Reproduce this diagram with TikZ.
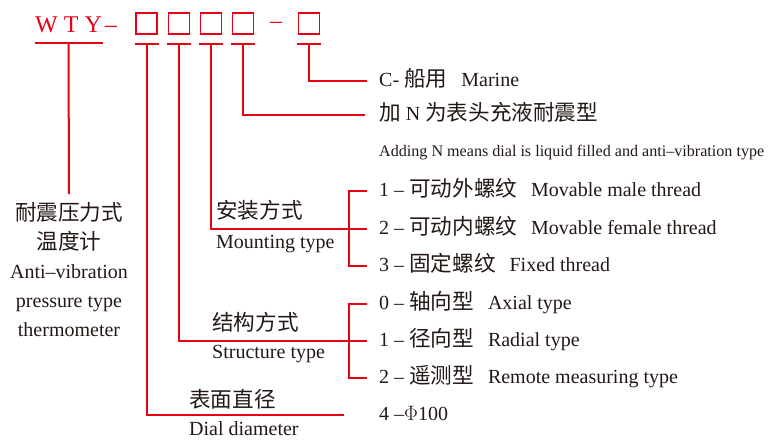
\documentclass[tikz,border=0pt]{standalone}
\usepackage{fontspec}
\setmainfont{Liberation Serif}
\newfontfamily\zh[Scale=1.08]{Noto Sans CJK SC}
\usetikzlibrary{positioning}
\definecolor{wred}{RGB}{230,0,18}
\definecolor{ink}{RGB}{35,24,21}

\begin{document}
\begin{tikzpicture}[x=1pt, y=-1pt,
  redline/.style={draw=wred, line width=2pt},
  codebox/.style={draw=wred, line width=1.2pt, minimum width=21pt, minimum height=21pt, inner sep=0},
  txt/.style={inner sep=0, anchor=west, text=ink, font=\fontsize{20}{24}\selectfont, text height=16pt, text depth=5pt},
  note/.style={txt, font=\fontsize{16.1}{20}\selectfont}
]
\useasboundingbox (0,0) rectangle (775,441);

% model code
\node[inner sep=0, anchor=west, text=wred, font=\fontsize{24}{28}\selectfont] (wty) at (35,25) {W\hspace{6pt}T\hspace{6pt}Y\hspace{3pt}–};
\node[codebox] (b1) at (146.5,23.5) {};
\node[codebox] (b2) at (179,23.5) {};
\node[codebox] (b3) at (211,23.5) {};
\node[codebox] (b4) at (243,23.5) {};
\node[inner sep=0, text=wred, font=\fontsize{24}{28}\selectfont] (dash) at (276,25) {–};
\node[codebox] (b5) at (309,23.5) {};

\coordinate (u0) at (68.5,43);
\draw[redline] ([xshift=-34pt]u0) -- ([xshift=34pt]u0);
\foreach \b in {1,...,5} {
  \coordinate (u\b) at ([yshift=-9pt]b\b.south);
  \draw[redline] ([xshift=-12pt]u\b) -- ([xshift=12pt]u\b);
}

% right column
\node[txt] (marine) at (379,81) {C- {\zh 船用}\hspace{14pt}Marine};
\node[txt] (fillzh) at (379,115) {{\zh 加} N {\zh 为表头充液耐震型}};
\node[note] (fillen) at (379,151) {Adding N means dial is liquid filled and anti–vibration type};
\node[txt] (m1) at (379,191) {1 – {\zh 可动外螺纹}\hspace{14pt}Movable male thread};
\node[txt] (m2) at (379,229) {2 – {\zh 可动内螺纹}\hspace{14pt}Movable female thread};
\node[txt] (m3) at (379,266) {3 – {\zh 固定螺纹}\hspace{14pt}Fixed thread};
\node[txt] (s0) at (379,304) {0 – {\zh 轴向型}\hspace{14pt}Axial type};
\node[txt] (s1) at (379,341) {1 – {\zh 径向型}\hspace{14pt}Radial type};
\node[txt] (s2) at (379,378) {2 – {\zh 遥测型}\hspace{14pt}Remote measuring type};
\node[txt] (dia) at (379,415) {4 –$\Phi$100};

% left labels
\node[inner sep=0, anchor=north, align=center, text=ink, font=\fontsize{20}{29}\selectfont] (title) at (69,202)
  {{\zh 耐震压力式}\\{\zh 温度计}\\Anti–vibration\\pressure type\\thermometer};
\node[txt] (mountzh) at (216,213) {\zh 安装方式};
\node[txt] (mounten) at (216,243) {Mounting type};
\node[txt] (structzh) at (212,325) {\zh 结构方式};
\node[txt] (structen) at (212,353) {Structure type};
\node[txt] (dialzh) at (189,402) {\zh 表面直径};
\node[txt] (dialen) at (189,430) {Dial diameter};

% connectors
\draw[redline] (u0) -- ([yshift=8pt]title.north);
\draw[redline] (u5) |- ([xshift=-12pt]marine.west);
\draw[redline] (u4) |- ([xshift=-14pt]fillzh.west);
\draw[redline] (u3) |- ([xshift=-12pt]m2.west);
\draw[redline] (u2) |- ([xshift=-12pt]s1.west);
\draw[redline] (u1) |- ([xshift=-35pt]dia.west);
\draw[redline] ([xshift=-12pt]m1.west) -| ([xshift=-30pt]m2.west) |- ([xshift=-12pt]m3.west);
\draw[redline] ([xshift=-12pt]s0.west) -| ([xshift=-30pt]s1.west) |- ([xshift=-12pt]s2.west);
\end{tikzpicture}
\end{document}
